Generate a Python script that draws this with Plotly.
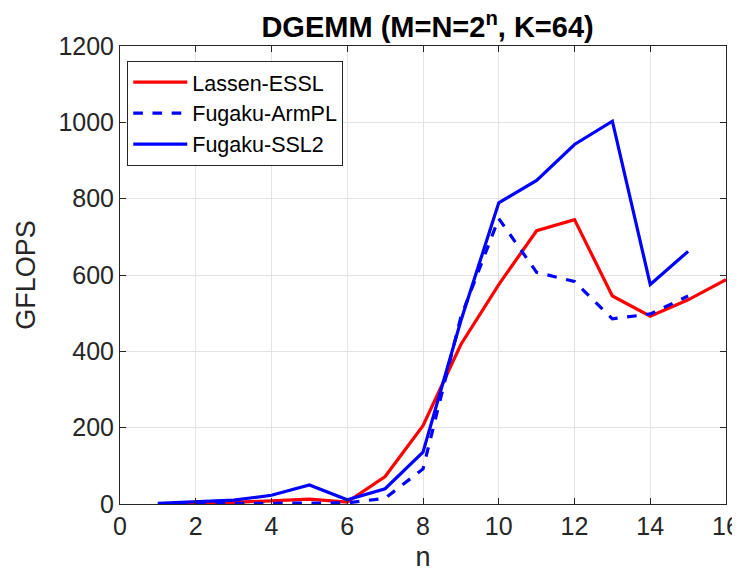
import plotly.graph_objects as go

n_vals = list(range(1, 17))
lassen_essl = [0.5, 1, 4, 8, 13, 5, 72, 205, 418, 575, 716, 745, 545, 492, 535, 588]
n_fugaku = list(range(1, 16))
fugaku_armpl = [0.3, 0.5, 1, 2, 3, 3, 15, 92, 490, 748, 607, 583, 485, 498, 545]
fugaku_ssl2 = [2, 5, 10, 23, 50, 11, 40, 136, 480, 789, 848, 942, 1003, 575, 662]

x_ticks = list(range(0, 17, 2))
y_ticks = list(range(0, 1201, 200))

font_family = "Liberation Sans, Arial, sans-serif"
axis_color = "#262626"

fig = go.Figure()
fig.add_trace(go.Scatter(x=n_vals, y=lassen_essl, mode="lines", name="Lassen-ESSL",
                         line=dict(color="#FF0000", width=3.2)))
fig.add_trace(go.Scatter(x=n_fugaku, y=fugaku_armpl, mode="lines", name="Fugaku-ArmPL",
                         line=dict(color="#0000FF", width=3.2, dash="dash")))
fig.add_trace(go.Scatter(x=n_fugaku, y=fugaku_ssl2, mode="lines", name="Fugaku-SSL2",
                         line=dict(color="#0000FF", width=3.2)))

fig.update_layout(
    width=740, height=571,
    margin=dict(l=112, r=22, t=38, b=75, autoexpand=False),
    paper_bgcolor="white", plot_bgcolor="white",
    font=dict(family=font_family, color=axis_color),
    title=dict(text="<b>DGEMM (M=N=2<sup>n</sup>, K=64)</b>", x=0.567, xanchor="center",
               y=0.967, yanchor="middle", font=dict(size=29, color="black")),
    legend=dict(x=0.012, y=0.968, xanchor="left", yanchor="top",
                bgcolor="white", bordercolor=axis_color, borderwidth=1,
                font=dict(size=21.5, color="black"), itemwidth=54, tracegroupgap=0),
    showlegend=True,
)
fig.update_xaxes(range=[0, 16], tickvals=x_ticks, ticktext=[str(v) for v in x_ticks],
                 automargin=False,
                 showgrid=True, gridcolor="#E3E3E3", gridwidth=1,
                 showline=True, linecolor=axis_color, linewidth=1, mirror="ticks",
                 ticks="inside", ticklen=6, tickcolor=axis_color,
                 tickfont=dict(size=25, color=axis_color), zeroline=False,
                 title=dict(text="n", font=dict(size=27, color=axis_color), standoff=8))
fig.update_yaxes(range=[0, 1200], tickvals=y_ticks, ticktext=[str(v) for v in y_ticks],
                 automargin=False,
                 showgrid=True, gridcolor="#E3E3E3", gridwidth=1,
                 showline=True, linecolor=axis_color, linewidth=1, mirror="ticks",
                 ticks="inside", ticklen=6, tickcolor=axis_color,
                 tickfont=dict(size=25, color=axis_color), zeroline=False,
                 title=dict(text="GFLOPS", font=dict(size=27, color=axis_color), standoff=14))

fig.write_html("out.html")
